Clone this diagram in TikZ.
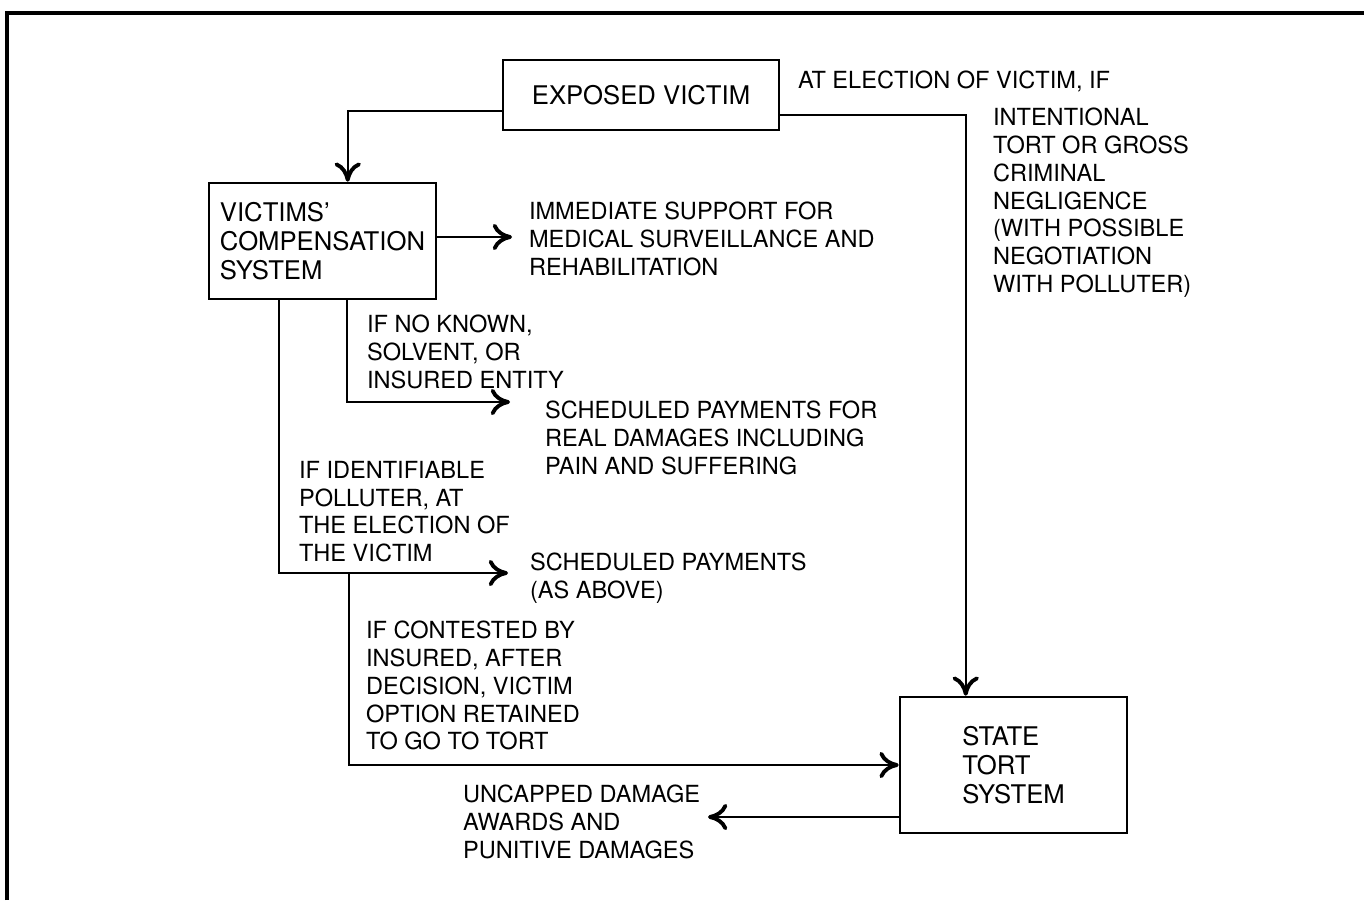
\documentclass[tikz,border=0pt]{standalone}
\usepackage{fontspec}
\setmainfont{TeX Gyre Heros}
\usetikzlibrary{arrows.meta, positioning, calc}

\begin{document}
\begin{tikzpicture}[x=0.01cm, y=-0.01cm,
    line width=0.6pt,
    >={Computer Modern Rightarrow[length=5.5pt,width=7.5pt,line width=1.1pt]},
    boxnode/.style={draw, line width=0.7pt, align=left, inner sep=0pt,
      font=\fontsize{7.3}{8.3}\selectfont},
    lbl/.style={anchor=north west, align=left, inner sep=0pt,
      font=\fontsize{6.7}{7.9}\selectfont}]
        \useasboundingbox (0,0) rectangle (1364,900);
        % frame
        \draw[line width=1.1pt] (7,900) -- (7,13) -- (1364,13);
        % boxes
        \node[boxnode, minimum width=2.76cm, minimum height=0.70cm] (victim) at (641,95) {EXPOSED VICTIM};
        \node[boxnode, minimum width=2.27cm, minimum height=1.16cm] (vcs) at (322.5,241) {VICTIMS'\\COMPENSATION\\SYSTEM};
        \node[boxnode, minimum width=2.27cm, minimum height=1.36cm] (tort) at (1013.5,765) {STATE\\TORT\\SYSTEM};
        % texts
        \node[lbl] (elect) at (797,70) {AT ELECTION OF VICTIM, IF};
        \node[lbl] (intent) at (992,107) {INTENTIONAL\\TORT OR GROSS\\CRIMINAL\\NEGLIGENCE\\(WITH POSSIBLE\\NEGOTIATION\\WITH POLLUTER)};
        \node[lbl] (medic) at (528,201) {IMMEDIATE SUPPORT FOR\\MEDICAL SURVEILLANCE AND\\REHABILITATION};
        \node[lbl] (noknown) at (366,314) {IF NO KNOWN,\\SOLVENT, OR\\INSURED ENTITY};
        \node[lbl] (sched1) at (544,400) {SCHEDULED PAYMENTS FOR\\REAL DAMAGES INCLUDING\\PAIN AND SUFFERING};
        \node[lbl] (ident) at (298,460) {IF IDENTIFIABLE\\POLLUTER, AT\\THE ELECTION OF\\THE VICTIM};
        \node[lbl] (sched2) at (529,552) {SCHEDULED PAYMENTS\\(AS ABOVE)};
        \node[lbl] (contest) at (365,620) {IF CONTESTED BY\\INSURED, AFTER\\DECISION, VICTIM\\OPTION RETAINED\\TO GO TO TORT};
        \node[lbl] (uncap) at (462,784) {UNCAPPED DAMAGE\\AWARDS AND\\PUNITIVE DAMAGES};
        % arrow tips and junction
        \coordinate (tmed) at (512,237);
        \coordinate (tsch1) at (510,402);
        \coordinate (tsch2) at (508,573);
        \coordinate (split) at (349,573);
        \coordinate (tunc) at (708,817);
        % connectors
        \draw[->] ($(victim.west)+(0,16)$) -| ($(vcs.north west)+(140,0)$);
        \draw[->] ($(victim.east)+(0,20)$) -| ($(tort.north west)+(67,0)$);
        \draw[->] ($(vcs.east)+(0,-4)$) -- (tmed);
        \draw[->] ($(vcs.south west)+(139,0)$) |- (tsch1);
        \draw[->] ($(vcs.south west)+(71,0)$) |- (tsch2);
        \draw[->] (split) |- (tort.west);
        \draw[->] ($(tort.west)+(0,52)$) -- (tunc);
      \end{tikzpicture}
\end{document}
